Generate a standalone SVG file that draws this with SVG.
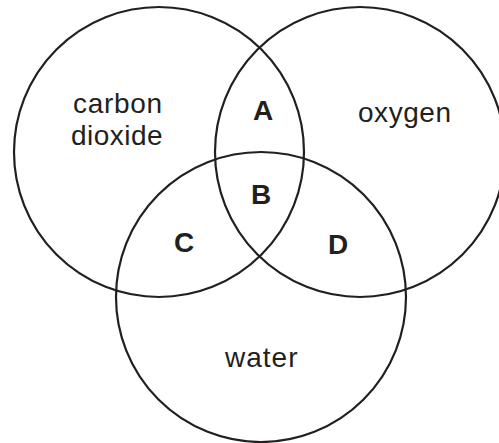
<svg xmlns="http://www.w3.org/2000/svg" width="499" height="443" viewBox="0 0 499 443">
<style>
.c{fill:none;stroke:#231f20;stroke-width:2.2}
.t{font-family:"Liberation Sans",Arial,sans-serif;font-size:28px;fill:#231f20}
.l{font-family:"Liberation Sans",Arial,sans-serif;font-size:28px;font-weight:bold;fill:#231f20;text-anchor:middle}
</style>
<rect width="499" height="443" fill="#fff"/>
<g id="carbon-dioxide">
<circle class="c" cx="159" cy="152" r="145"/>
<text class="t" x="73" y="113" textLength="89">carbon</text>
<text class="t" x="71" y="144.5" textLength="91.5">dioxide</text>
</g>
<g id="oxygen">
<circle class="c" cx="360" cy="152" r="145"/>
<text class="t" x="358" y="121.5" textLength="93">oxygen</text>
</g>
<g id="water">
<circle class="c" cx="261" cy="297" r="145"/>
<text class="t" x="225" y="367" textLength="72.5">water</text>
</g>
<g id="A"><text class="l" x="263" y="120">A</text></g>
<g id="B"><text class="l" x="261" y="204">B</text></g>
<g id="C"><text class="l" x="184" y="251.5">C</text></g>
<g id="D"><text class="l" x="338" y="254">D</text></g>
</svg>
